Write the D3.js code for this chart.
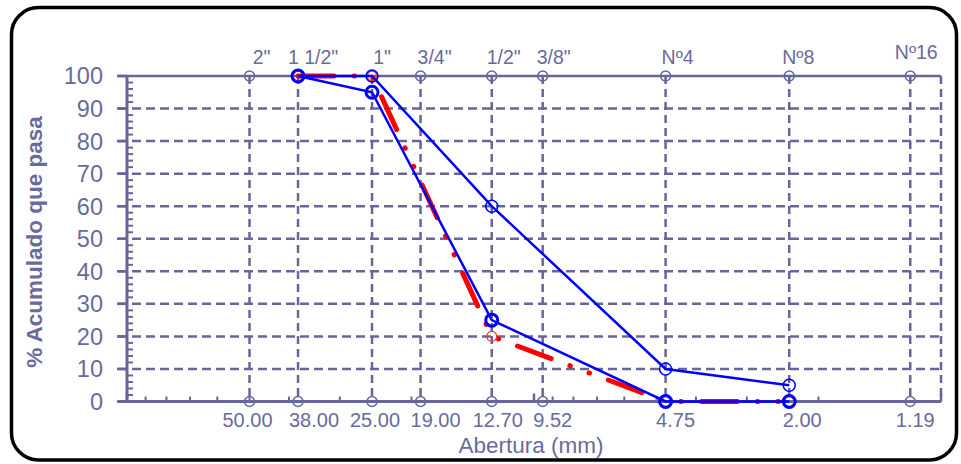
<!DOCTYPE html>
<html>
<head>
<meta charset="utf-8">
<script src="https://cdn.jsdelivr.net/npm/d3@7"></script>
<style>
  html, body { margin: 0; padding: 0; background: #fff; }
  svg { display: block; }
  text { font-family: "Liberation Sans", Arial, sans-serif; }
</style>
</head>
<body>
<svg id="chart" width="961" height="464"></svg>
<script>
// ---------- data ----------
const sieveNames   = ['2"', '1 1/2"', '1"', '3/4"', '1/2"', '3/8"', 'Nº4', 'Nº8', 'Nº16'];
const sievePos     = [50, 38, 25, 19, 12.7, 9.52, 4.75, 2.36, 1.19];   // aperture used for plotting (mm)
const sieveLabels  = ['50.00', '38.00', '25.00', '19.00', '12.70', '9.52', '4.75', '2.00', '1.19'];

const curveSizes   = [38, 25, 12.7, 4.75, 2.36];
const upperLimit   = [100, 100, 60, 10, 5];
const sampleCurve  = [100, 95, 25, 0, 0];
const lowerLimit   = [100, 100, 20, 0, 0];

const yTicks = [0, 10, 20, 30, 40, 50, 60, 70, 80, 90, 100];

// ---------- layout ----------
const topLabelDx    = [12, 15, 10, 14, 12, 11, 12, 9, 6];
const topLabelY     = [64, 64, 64, 64, 64, 64, 64, 64, 59];
const bottomLabelDx = [-2, 16, 3, 15, 6, 10, 10, 13, 5];

const C = '#66669a';
const TXT = '#6a6a9c';

const svg = d3.select('#chart');
const x = d3.scaleLog().domain([100, 1]).range([127, 941]);
const y = d3.scaleLinear().domain([0, 100]).range([401.5, 76]);

// frame
svg.append('rect').attr('x', 11.5).attr('y', 7.5).attr('width', 945).attr('height', 452.5)
  .attr('rx', 27).attr('fill', '#fff').attr('stroke', '#000').attr('stroke-width', 3.5);

const g = svg.append('g');

// horizontal dashed grid
g.selectAll('.hgrid').data(yTicks.filter(d => d > 0 && d < 100)).join('line')
  .attr('x1', 118).attr('x2', 941).attr('y1', d => y(d)).attr('y2', d => y(d))
  .attr('stroke', C).attr('stroke-width', 2.5).attr('stroke-dasharray', '9,5');

// vertical dashed grid at sieves
g.selectAll('.vgrid').data(sievePos).join('line')
  .attr('x1', d => x(d)).attr('x2', d => x(d)).attr('y1', y(100)).attr('y2', y(0))
  .attr('stroke', C).attr('stroke-width', 2.5).attr('stroke-dasharray', '8,5');

// right dashed border
g.append('line').attr('x1', x(1)).attr('x2', x(1)).attr('y1', y(100)).attr('y2', y(0))
  .attr('stroke', C).attr('stroke-width', 2.5).attr('stroke-dasharray', '8,5');

// top line
g.append('line').attr('x1', 118).attr('x2', x(1)).attr('y1', y(100)).attr('y2', y(100))
  .attr('stroke', C).attr('stroke-width', 2.5);

// left axis
g.append('line').attr('x1', x(100)).attr('x2', x(100)).attr('y1', y(100)).attr('y2', y(0))
  .attr('stroke', C).attr('stroke-width', 3);
g.selectAll('.ymaj').data(yTicks).join('line')
  .attr('x1', 117).attr('x2', x(100)).attr('y1', d => y(d)).attr('y2', d => y(d))
  .attr('stroke', C).attr('stroke-width', 2.5);
g.selectAll('.ymin').data(d3.range(0, 100, 2).filter(d => d % 10 !== 0)).join('line')
  .attr('x1', x(100)).attr('x2', x(100) + 6).attr('y1', d => y(d)).attr('y2', d => y(d))
  .attr('stroke', C).attr('stroke-width', 2);

// bottom axis
g.append('line').attr('x1', 118).attr('x2', x(1)).attr('y1', y(0)).attr('y2', y(0))
  .attr('stroke', C).attr('stroke-width', 3);
const minorX = [];
[10, 1].forEach(dec => { for (let k = 2; k <= 9; k++) minorX.push(k * dec); });
g.selectAll('.xmin').data(minorX).join('line')
  .attr('x1', d => x(d)).attr('x2', d => x(d)).attr('y1', y(0)).attr('y2', y(0) - 5)
  .attr('stroke', C).attr('stroke-width', 2);
g.selectAll('.xmaj').data([100, 10, 1]).join('line')
  .attr('x1', d => x(d)).attr('x2', d => x(d)).attr('y1', y(0)).attr('y2', y(0) - 8)
  .attr('stroke', C).attr('stroke-width', 2.5);

// y labels
g.selectAll('.ylab').data(yTicks).join('text')
  .attr('x', 103).attr('y', d => y(d)).attr('dy', '0.36em')
  .attr('text-anchor', 'end').attr('font-size', 23.5).attr('fill', TXT).text(d => d);

// y title
svg.append('text').attr('transform', 'translate(42,242) rotate(-90)')
  .attr('text-anchor', 'middle').attr('font-size', 22.5).attr('font-weight', 'bold')
  .attr('fill', TXT).text('% Acumulado que pasa');

// x title
svg.append('text').attr('x', 531).attr('y', 453).attr('text-anchor', 'middle')
  .attr('font-size', 22.5).attr('fill', TXT).text('Abertura (mm)');

// sieve markers top & bottom
[100, 0].forEach(v => {
  g.selectAll('.sm' + v).data(sievePos).join('circle')
    .attr('cx', d => x(d)).attr('cy', y(v)).attr('r', 5)
    .attr('fill', 'none').attr('stroke', C).attr('stroke-width', 1.5);
});

// top labels
g.selectAll('.tlab').data(sieveNames).join('text')
  .attr('x', (d, i) => x(sievePos[i]) + topLabelDx[i]).attr('y', (d, i) => topLabelY[i])
  .attr('text-anchor', 'middle').attr('font-size', 19.5).attr('fill', TXT).text(d => d);

// bottom labels
g.selectAll('.blab').data(sieveLabels).join('text')
  .attr('x', (d, i) => x(sievePos[i]) + bottomLabelDx[i]).attr('y', 427)
  .attr('text-anchor', 'middle').attr('font-size', 20).attr('fill', TXT).text(d => d);

const line = d3.line().x(d => x(d[0])).y(d => y(d[1]));
const pts = vals => curveSizes.map((s, i) => [s, vals[i]]);

// red dash-dot-dot curve
g.append('path').attr('d', line(pts(lowerLimit))).attr('fill', 'none')
  .attr('stroke', '#ff0000').attr('stroke-width', 5).attr('stroke-linecap', 'round')
  .attr('stroke-dasharray', '36,20,0.5,20,0.5,20');
g.selectAll('.rm').data(pts(lowerLimit)).join('circle')
  .attr('cx', d => x(d[0])).attr('cy', d => y(d[1])).attr('r', 5)
  .attr('fill', 'none').attr('stroke', '#ff3a1a').attr('stroke-width', 1.2);

// upper thin blue curve
g.append('path').attr('d', line(pts(upperLimit))).attr('fill', 'none')
  .attr('stroke', '#0000ff').attr('stroke-width', 2.5);
g.selectAll('.um').data(pts(upperLimit)).join('circle')
  .attr('cx', d => x(d[0])).attr('cy', d => y(d[1])).attr('r', 6)
  .attr('fill', 'none').attr('stroke', '#0000ff').attr('stroke-width', 1.5);

// sample thick blue curve
g.append('path').attr('d', line(pts(sampleCurve))).attr('fill', 'none')
  .attr('stroke', '#0000ff').attr('stroke-width', 2.5);
g.selectAll('.sm').data(pts(sampleCurve)).join('circle')
  .attr('cx', d => x(d[0])).attr('cy', d => y(d[1])).attr('r', 6)
  .attr('fill', 'none').attr('stroke', '#0000ff').attr('stroke-width', 3);
</script>
</body>
</html>
